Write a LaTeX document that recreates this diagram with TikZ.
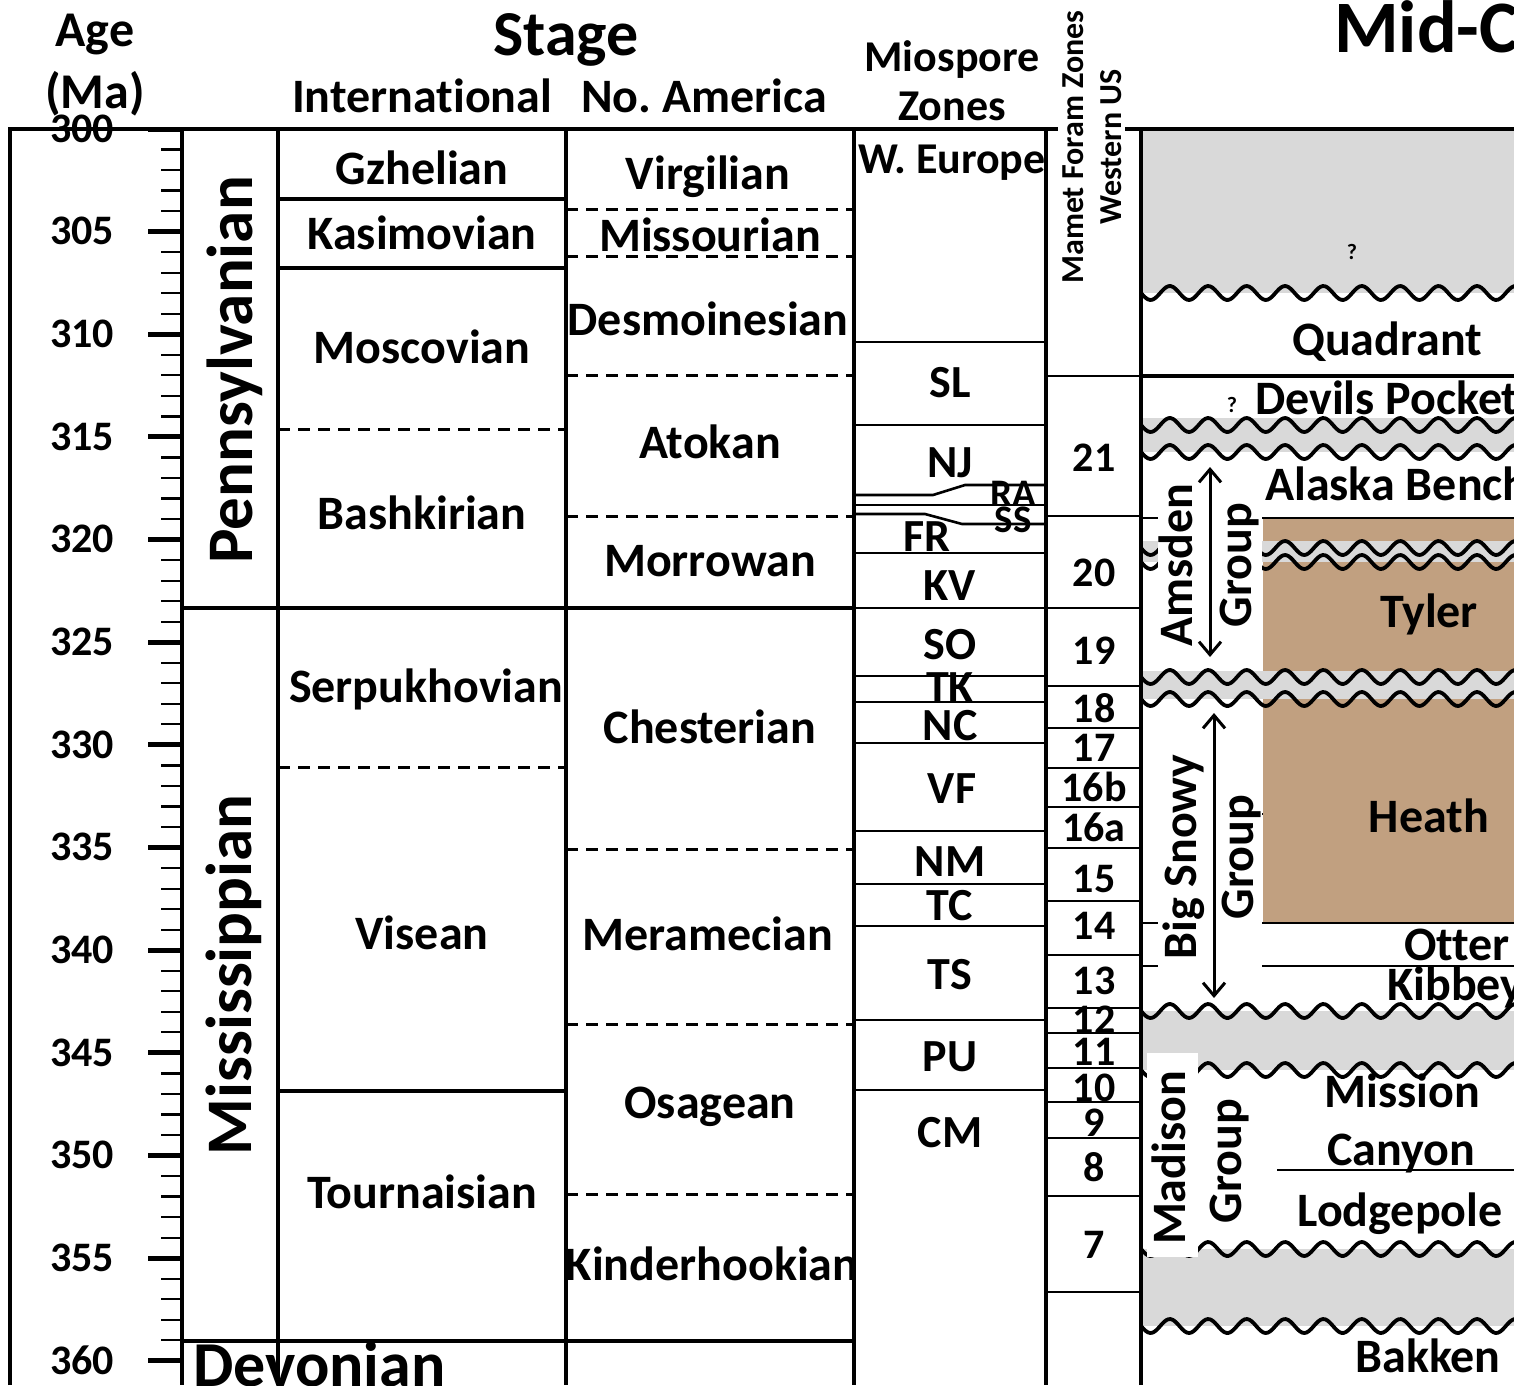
\documentclass[tikz,border=0pt]{standalone}
\usepackage{fontspec}
\setmainfont{Carlito}[Ligatures=NoCommon]
\usepackage{xcolor}
\usepackage{tikz}
\usetikzlibrary{arrows.meta}
\definecolor{gapgrey}{RGB}{217,217,217}
\definecolor{shaletan}{RGB}{193,160,128}
\tikzset{
  box/.style={line width=3.2pt},
  zl/.style={line width=2.6pt},
  dsh/.style={line width=3pt, dash pattern=on 12pt off 8pt},
  wv/.style={line width=3.8pt, line join=round},
  tk/.style={line width=2.2pt},
  mtk/.style={line width=5pt},
  txt/.style={inner sep=0pt, text depth=0pt},
  hd/.style={txt, font=\fontsize{64}{70}\selectfont\bfseries, text height=41.2pt},
  sub/.style={txt, font=\fontsize{48}{54}\selectfont\bfseries, text height=30.9pt},
  per/.style={txt, font=\fontsize{65}{70}\selectfont\bfseries, text height=41.9pt, rotate=90},
  mhd/.style={txt, font=\fontsize{44}{50}\selectfont\bfseries, text height=28.3pt},
  zn/.style={txt, font=\fontsize{46}{52}\selectfont\bfseries, text height=29.6pt},
  sm/.style={txt, font=\fontsize{39}{44}\selectfont\bfseries, text height=25.1pt},
  num/.style={txt, font=\fontsize{42}{48}\selectfont\bfseries, text height=26.6pt},
  grp/.style={sub, rotate=90},
  qm/.style={txt, font=\fontsize{22}{26}\selectfont\bfseries, text height=14pt},
  mam/.style={txt, font=\fontsize{32}{38}\selectfont\bfseries, text height=20.6pt, rotate=90},
  dbl/.style={{Straight Barb[length=13pt,width=22pt]}-{Straight Barb[length=13pt,width=22pt]}, line width=3pt},
}
% one unconformity across the formation column
\newcommand{\wavyline}[1]{\draw[wv] plot[domain=1141:1530, samples=170, smooth] (\x,{#1+7*sin((\x-1141)*9.375)});}

\begin{document}
\begin{tikzpicture}[x=1pt, y=-1pt]
\useasboundingbox (0,0) rectangle (1514,1385);
\clip (0,0) rectangle (1514,1385);

% formation column
\fill[gapgrey] (1141,129) rectangle (1514,293);
\fill[shaletan] (1263,518) rectangle (1514,923);
\fill[gapgrey] (1141,418) rectangle (1514,452);
\fill[gapgrey] (1141,541) rectangle (1514,562);
\fill[gapgrey] (1141,671) rectangle (1514,699);
\fill[gapgrey] (1141,1011) rectangle (1514,1070);
\fill[gapgrey] (1141,1249) rectangle (1514,1326);
\wavyline{293} \wavyline{425} \wavyline{452}
\wavyline{548} \wavyline{562} \wavyline{677} \wavyline{699}
\wavyline{1011} \wavyline{1070} \wavyline{1249} \wavyline{1326}
\draw[zl] (1141,518) -- (1514,518);
\draw[zl] (1141,923) -- (1514,923);
\draw[zl] (1141,966) -- (1514,966);
\draw[zl] (1253,814) -- (1263,814);
\draw[zl] (1277,1170) -- (1514,1170);
\fill[white] (1158,462) rectangle (1262,668);
\fill[white] (1158,712) rectangle (1262,1001);
\fill[white] (1147,1053) rectangle (1198,1257);
\draw[box] (1141,376) -- (1514,376);

% age scale
\foreach \a in {0,...,60}
  \draw[tk] (161,{129+\a*20.53}) -- (182,{129+\a*20.53});
\foreach \a in {0,5,...,60}
  \draw[mtk] (148,{129+\a*20.53}) -- (182,{129+\a*20.53});

% stage boundaries
\draw[box, line width=4pt] (182,608) -- (854,608);
\draw[box, line width=4pt] (182,1341) -- (854,1341);
\foreach \y in {199,268,1091} \draw[box] (278,\y) -- (566,\y);
\foreach \y in {429,767} \draw[dsh] (278,\y) -- (566,\y);
\foreach \y in {209,256,375,516,849,1024,1194} \draw[dsh] (566,\y) -- (854,\y);

% miospore and foram zones
\foreach \y in {342,425,553,608,676,702,743,831,884,926,1020,1090}
  \draw[zl] (854,\y) -- (1046,\y);
\draw[zl] (854,495) -- (933,495) -- (965,485) -- (1046,485);
\draw[zl] (854,505) -- (1046,505);
\draw[zl] (854,514) -- (925,514) -- (962,524) -- (1046,524);
\foreach \y in {376,516,608,686,728,768,807,848,901,955,1008,1033,1068,1102,1138,1196,1292}
  \draw[zl] (1046,\y) -- (1141,\y);

% frame
\draw[box] (10,1385) -- (10,129) -- (1058,129);
\draw[box] (1125,129) -- (1141,129);
\foreach \x in {182,278,566,854,1046} \draw[box] (\x,129) -- (\x,1385);
\draw[box, line width=4pt] (1141,1385) -- (1141,129) -- (1514,129);

% headings
\node[sub, font=\fontsize{50}{56}\selectfont\bfseries, text height=32.2pt] (age) at (95,30) {Age};
\node[sub, font=\fontsize{50}{56}\selectfont\bfseries, text height=32.2pt] (ma) at (95,92) {(Ma)};
\node[hd] (stage) at (566,35) {Stage};
\node[sub] (intl) at (422,97) {International};
\node[sub] (noam) at (704,97) {No.\ America};
\node[mhd] (miospore) at (952,57) {Miospore};
\node[mhd] (zones) at (952,106) {Zones};
\node[mhd] (weur) at (952,159) {W. Europe};
\node[mam] (mamet) at (1073,147) {Mamet Foram Zones};
\node[mam] (west) at (1111,147) {Western US};
\node[hd, font=\fontsize{74}{80}\selectfont\bfseries, text height=47.6pt, anchor=west] (midc) at (1334,29) {Mid-C};

\foreach \a in {0,5,...,60}
  \node[num] (age\a) at (82,{129+\a*20.53}) {\pgfmathparse{int(300+\a)}\pgfmathresult};

% periods
\node[per] (penn) at (232,370) {Pennsylvanian};
\node[per] (miss) at (231,975) {Mississippian};
\node[hd, anchor=west] (dev) at (193,1366) {Devonian};

% international stages
\node[sub] (gzh) at (422,169) {Gzhelian};
\node[sub] (kas) at (422,234) {Kasimovian};
\node[sub] (mos) at (422,348) {Moscovian};
\node[sub] (bas) at (422,514) {Bashkirian};
\node[sub] (ser) at (426,687) {Serpukhovian};
\node[sub] (vis) at (422,934) {Visean};
\node[sub] (tou) at (422,1193) {Tournaisian};

% north american stages
\node[sub] (vir) at (708,174) {Virgilian};
\node[sub] (mis) at (710,236) {Missourian};
\node[sub] (des) at (708,320) {Desmoinesian};
\node[sub] (ato) at (710,443) {Atokan};
\node[sub] (mor) at (710,561) {Morrowan};
\node[sub] (che) at (710,728) {Chesterian};
\node[sub] (mer) at (708,935) {Meramecian};
\node[sub] (osa) at (710,1103) {Osagean};
\node[sub] (kin) at (712,1265) {Kinderhookian};

% miospore zones
\node[zn] (sl) at (950,383) {SL};
\node[zn] (nj) at (950,463) {NJ};
\node[sm] (ra) at (1013,494) {RA};
\node[sm] (ss) at (1013,520) {SS};
\node[zn] (fr) at (927,537) {FR};
\node[zn] (kv) at (950,586) {KV};
\node[zn] (so) at (950,645) {SO};
\node[zn] (tkz) at (950,688) {TK};
\node[zn] (nc) at (950,726) {NC};
\node[zn] (vf) at (952,789) {VF};
\node[zn] (nm) at (950,862) {NM};
\node[zn] (tc) at (950,906) {TC};
\node[zn] (ts) at (950,975) {TS};
\node[zn] (pu) at (950,1057) {PU};
\node[zn] (cm) at (950,1133) {CM};

% foram zones
\foreach \z/\y in {21/458,20/573,19/651,18/709,17/748,16b/788,16a/828,15/879,14/926,13/981,12/1020,11/1052,10/1088,9/1123,8/1168,7/1245}
  \node[num] (fz\z) at (1094,\y) {\z};

% formations
\node[qm] (q1) at (1352,252) {?};
\node[sub] (quad) at (1387,340) {Quadrant};
\node[qm] (q2) at (1232,405) {?};
\node[sub, anchor=west] (devp) at (1255,399) {Devils Pocket};
\node[sub, anchor=west] (alas) at (1265,485) {Alaska Bench};
\node[sub] (tyl) at (1429,612) {Tyler};
\node[sub] (hea) at (1429,817) {Heath};
\node[sub] (ott) at (1457,945) {Otter};
\node[sub, anchor=west] (kib) at (1387,985) {Kibbey};
\node[sub] (mcn1) at (1402,1092) {Mission};
\node[sub] (mcn2) at (1401,1150) {Canyon};
\node[sub] (lod) at (1400,1211) {Lodgepole};
\node[sub] (bak) at (1428,1357) {Bakken};

% groups
\node[grp] (ams) at (1177,565) {Amsden};
\node[grp] (amsg) at (1236,565) {Group};
\coordinate (amsT) at (1210,467);
\coordinate (amsB) at (1210,657);
\draw[dbl] (amsT) -- (amsB);
\node[grp] (bsn) at (1181,857) {Big Snowy};
\node[grp] (bsng) at (1238,857) {Group};
\coordinate (bsT) at (1214,713);
\coordinate (bsB) at (1214,998);
\draw[dbl] (bsT) -- (bsB);
\node[grp] (mad) at (1170,1158) {Madison};
\node[grp] (madg) at (1226,1161) {Group};
\end{tikzpicture}
\end{document}
